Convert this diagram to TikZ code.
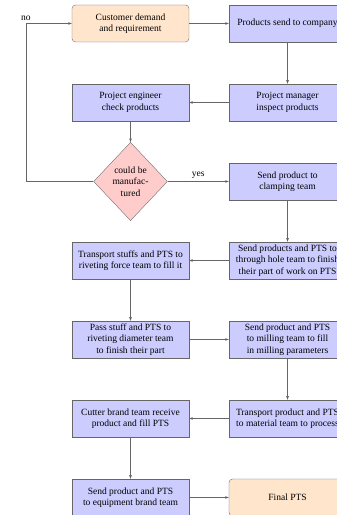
\documentclass[tikz,border=0pt]{standalone}
\usepackage{fontspec}
\setmainfont{Liberation Serif}
\usetikzlibrary{arrows,shapes,positioning}
\tikzset{box/.style={
            draw=black!60,
            fill=blue!20,
            align=center,
            inner sep=2.5pt,
            minimum width=131.5pt,
            minimum height=41.6pt
        },
        endbox/.style={
            box,
            fill=orange!20,
            rounded corners=4pt
        },
        choice/.style={
            draw=black!60,
            diamond,
            fill=red!20,
            align=center,
            inner sep=0pt,
            minimum width=83pt,
            minimum height=88pt
        },
        flow/.style={
            ->,
            >=latex,
            draw=black!60
        }
    }

\begin{document}
\begin{tikzpicture}[node distance=88.8pt and 176.5pt, on grid,
        every node/.style={font=\fontsize{10.7pt}{12.8pt}\selectfont}]
        \useasboundingbox (-146.7pt,26.4pt) rectangle (232.1pt,-552.5pt);

        \node[endbox] at (0,0) (cust) {Customer demand\\and requirement};
        \node[box, right=of cust] (comp) {Products send to company};
        \node[box, below=of comp] (mgr) {Project manager\\inspect products};
        \node[box, left=of mgr] (eng) {Project engineer\\check products};
        \node[choice, below=of eng] (dec) {could be\\manufac-\\tured};
        \node[box, right=of dec] (clamp) {Send product to\\clamping team};
        \node[box, below=of clamp] (hole) {Send products and PTS to\\through hole team to finish\\their part of work on PTS};
        \node[box, left=of hole] (force) {Transport stuffs and PTS to\\riveting force team to fill it};
        \node[box, below=of force] (dia) {Pass stuff and PTS to\\riveting diameter team\\to finish their part};
        \node[box, right=of dia] (mill) {Send product and PTS\\to milling team to fill\\in milling parameters};
        \node[box, below=of mill] (mat) {Transport product and PTS\\to material team to process};
        \node[box, left=of mat] (cut) {Cutter brand team receive\\product and fill PTS};
        \node[box, below=of cut] (equip) {Send product and PTS\\to equipment brand team};
        \node[endbox, right=of equip] (final) {Final PTS};

        \coordinate[left=76pt of dec.west] (back);

        \draw[flow] (cust) -- (comp);
        \draw[flow] (comp) -- (mgr);
        \draw[flow] (mgr) -- (eng);
        \draw[flow] (eng) -- (dec);
        \draw[flow] (dec) -- node[above] {yes} (clamp);
        \draw[flow] (dec.west) -- (back) |- node[pos=0.5, above] {no} (cust.west);
        \draw[flow] (clamp) -- (hole);
        \draw[flow] (hole) -- (force);
        \draw[flow] (force) -- (dia);
        \draw[flow] (dia) -- (mill);
        \draw[flow] (mill) -- (mat);
        \draw[flow] (mat) -- (cut);
        \draw[flow] (cut) -- (equip);
        \draw[flow] (equip) -- (final);

    \end{tikzpicture}
\end{document}
